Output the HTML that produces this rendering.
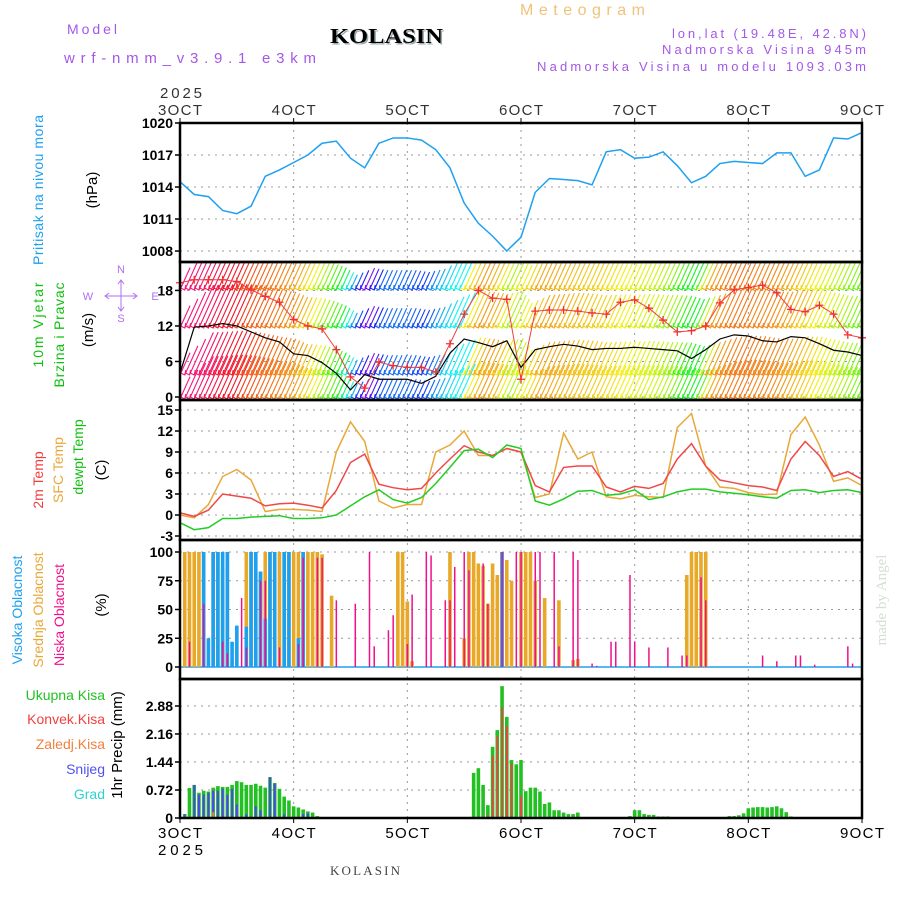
<!DOCTYPE html>
<html><head><meta charset="utf-8"><title>Meteogram KOLASIN</title>
<style>
html,body{margin:0;padding:0;background:#fff;}
svg{display:block;font-family:"Liberation Sans",sans-serif;}
</style></head>
<body>
<svg id="chart" width="900" height="900" viewBox="0 0 900 900" xmlns="http://www.w3.org/2000/svg">
<rect x="0" y="0" width="900" height="900" fill="#fff"/>
<!-- header -->
<text x="67" y="34" font-size="14" fill="#a458e8" textLength="50" lengthAdjust="spacing">Model</text>
<text x="64" y="63" font-size="15" fill="#a458e8" textLength="252" lengthAdjust="spacing">wrf-nmm_v3.9.1 e3km</text>
<text x="330" y="43" font-size="21" font-weight="bold" font-family="Liberation Serif,serif" fill="#9aa" textLength="113" lengthAdjust="spacingAndGlyphs" transform="translate(1.5,1.5)">KOLASIN</text>
<text x="330" y="43" font-size="21" font-weight="bold" font-family="Liberation Serif,serif" fill="#000" textLength="113" lengthAdjust="spacingAndGlyphs">KOLASIN</text>
<text x="520" y="15" font-size="16" fill="#f0c27a" textLength="125" lengthAdjust="spacing">Meteogram</text>
<text x="672" y="38" font-size="13" fill="#a458e8" textLength="194" lengthAdjust="spacing">lon,lat (19.48E, 42.8N)</text>
<text x="662" y="54" font-size="13" fill="#a458e8" textLength="204" lengthAdjust="spacing">Nadmorska Visina 945m</text>
<text x="537" y="71" font-size="13" fill="#a458e8" textLength="329" lengthAdjust="spacing">Nadmorska Visina u modelu 1093.03m</text>

<!-- left axis titles -->
<text transform="translate(43,190) rotate(-90)" text-anchor="middle" font-size="14" fill="#1ea0f0" textLength="150" lengthAdjust="spacing">Pritisak na nivou mora</text>
<text transform="translate(97,190) rotate(-90)" text-anchor="middle" font-size="15" fill="#000">(hPa)</text>
<text transform="translate(43,325) rotate(-90)" text-anchor="middle" font-size="14" fill="#10c010" textLength="85" lengthAdjust="spacing">10m Vjetar</text>
<text transform="translate(64,335) rotate(-90)" text-anchor="middle" font-size="14" fill="#10c010" textLength="105" lengthAdjust="spacing">Brzina i Pravac</text>
<text transform="translate(93,330) rotate(-90)" text-anchor="middle" font-size="15" fill="#000">(m/s)</text>
<g fill="#b070f0" stroke="#b070f0" font-size="11">
<text x="121" y="273" text-anchor="middle" stroke="none">N</text>
<text x="121" y="322" text-anchor="middle" stroke="none">S</text>
<text x="88" y="300" text-anchor="middle" stroke="none">W</text>
<text x="155" y="300" text-anchor="middle" stroke="none">E</text>
<path d="M105 296 L137 296 M121 281 L121 310 M109 293 L105 296 L109 299 M133 293 L137 296 L133 299 M118 284 L121 280 L124 284 M118 307 L121 311 L124 307" fill="none" stroke-width="1"/>
</g>
<text transform="translate(43,480) rotate(-90)" text-anchor="middle" font-size="14" fill="#f03c3c">2m Temp</text>
<text transform="translate(63,470) rotate(-90)" text-anchor="middle" font-size="14" fill="#e8a838">SFC Temp</text>
<text transform="translate(83,457) rotate(-90)" text-anchor="middle" font-size="14" fill="#10c010">dewpt Temp</text>
<text transform="translate(106,470) rotate(-90)" text-anchor="middle" font-size="15" fill="#000">(C)</text>
<text transform="translate(22,610) rotate(-90)" text-anchor="middle" font-size="14" fill="#1ea0f0">Visoka Oblacnost</text>
<text transform="translate(43,610) rotate(-90)" text-anchor="middle" font-size="14" fill="#e8a838">Srednja Oblacnost</text>
<text transform="translate(64,615) rotate(-90)" text-anchor="middle" font-size="14" fill="#f0108c">Niska Oblacnost</text>
<text transform="translate(106,605) rotate(-90)" text-anchor="middle" font-size="15" fill="#000">(%)</text>
<g font-size="14" text-anchor="end">
<text x="105" y="700" fill="#22c022">Ukupna  Kisa</text>
<text x="105" y="724" fill="#f04040">Konvek.Kisa</text>
<text x="105" y="749" fill="#f08040">Zaledj.Kisa</text>
<text x="105" y="774" fill="#5050f0">Snijeg</text>
<text x="105" y="799" fill="#30d0d0">Grad</text>
</g>
<text transform="translate(122,745) rotate(-90)" text-anchor="middle" font-size="15" fill="#000">1hr Precip (mm)</text>
<text transform="translate(886,600) rotate(-90)" text-anchor="middle" font-size="15" font-family="Liberation Serif,serif" fill="#d4e0d4">made by Angel</text>
<text x="330" y="875" font-size="13" font-family="Liberation Serif,serif" fill="#444" textLength="70" lengthAdjust="spacing">KOLASIN</text>

<g id="grid"></g>
<g id="plots"></g>
<g id="frames"></g>
<g id="axes"></g>
</svg>
<script>
// ---- data (3-hourly, hours 0..144) ----
const hours3 = [0,3,6,9,12,15,18,21,24,27,30,33,36,39,42,45,48,51,54,57,60,63,66,69,72,75,78,81,84,87,90,93,96,99,102,105,108,111,114,117,120,123,126,129,132,135,138,141,144];
const pressure = [1014.5,1013.3,1013.1,1011.8,1011.5,1012.2,1015.0,1015.6,1016.3,1017.0,1018.1,1018.3,1016.7,1015.8,1018.1,1018.6,1018.6,1018.4,1017.5,1015.8,1012.5,1010.6,1009.4,1008.0,1009.3,1013.5,1014.8,1014.7,1014.6,1014.2,1017.3,1017.5,1016.7,1016.8,1017.3,1016.0,1014.4,1015.0,1016.2,1016.4,1016.3,1016.2,1017.2,1017.2,1015.0,1015.6,1018.6,1018.5,1019.1];
const windSpeed = [4,11.8,12.0,12.4,12.0,11.0,10.0,9.3,7.3,7.0,5.8,4.0,1.2,3.8,3.0,3.0,3.0,2.3,3.5,7.4,9.8,9.2,8.5,9.5,5.0,8.0,8.5,8.9,8.6,8.0,8.2,8.2,8.4,8.2,8.0,7.8,6.5,8.0,9.8,10.5,10.3,9.5,9.3,10.2,10.0,9.0,7.9,7.6,7.0];
const windGust = [19.3,19.8,19.8,19.8,19.5,18.1,17.0,16.0,13.1,12.0,11.5,8.0,3.4,1.5,5.9,5.3,5.0,5.0,4.2,9.0,14.0,18.0,16.7,16.5,3.0,14.5,14.7,14.7,14.5,14.2,14.0,16.0,16.4,15.0,13.0,11.0,11.2,12.0,15.9,18.1,18.5,18.9,17.6,14.8,14.4,15.5,14.0,10.5,10.0];
const windHue = [330,335,345,355,10,20,25,30,40,60,90,120,200,270,220,215,220,230,200,180,60,35,45,80,60,40,40,45,48,50,55,60,65,70,80,110,130,40,30,25,30,30,35,45,55,65,75,90,100];
const temp2m = [0.3,-0.2,0.7,3.0,2.7,2.4,1.3,1.6,1.7,1.4,1.0,3.5,7.5,8.7,4.4,3.9,3.6,3.8,6.0,8.0,9.9,9.0,8.5,9.5,9.0,4.2,3.3,6.8,7.0,7.0,4.0,3.3,4.1,3.8,4.5,8.0,10.2,7.0,5.0,4.6,4.2,4.0,3.5,8.0,10.5,8.5,5.5,6.2,5.1];
const tempSfc = [0.0,-0.4,1.5,5.5,6.5,5.0,0.5,0.8,0.8,0.7,0.5,9.0,13.3,10.5,2.0,1.0,1.5,1.5,9.0,10.0,12.0,8.5,8.5,9.5,9.0,2.5,3.0,11.7,8.0,9.0,2.6,2.3,2.8,2.6,2.5,12.5,14.5,7.0,4.0,3.8,3.2,2.9,3.0,11.5,14.0,10.0,4.8,5.3,4.2];
const dewpt = [-1.1,-2.1,-1.8,-0.5,-0.5,-0.3,-0.2,-0.1,-0.5,-0.5,-0.4,0.0,1.3,2.6,3.6,2.2,1.7,2.5,4.5,6.8,9.2,9.4,8.2,10.0,9.5,2.0,1.4,2.3,3.4,3.5,2.8,3.0,3.6,2.2,2.6,3.3,3.7,3.7,3.3,3.1,2.9,2.6,2.4,3.5,3.6,3.2,3.5,3.6,3.2];
// cloud cover [hour, %]
const midCloud = [[1,100],[2,100],[3,100],[4,100],[5,100],[7,100],[8,100],[9,85],[10,100],[11,5],[14,100],[15,100],[16,83],[17,83],[18,100],[19,100],[21,100],[22,100],[23,100],[24,100],[25,100],[26,100],[27,100],[28,100],[29,100],[30,98],[32,62],[46,100],[47,100],[48,57],[49,5],[57,100],[60,25],[61,100],[62,100],[63,90],[64,88],[65,55],[66,90],[67,80],[68,100],[69,93],[70,75],[72,100],[73,100],[74,100],[75,75],[77,60],[80,58],[83,6],[84,7],[107,80],[108,100],[109,100],[110,100],[111,100]];
const highCloud = [[5,100],[6,25],[7,100],[8,100],[9,100],[10,100],[11,22],[12,36],[14,35],[15,100],[16,100],[17,83],[18,42],[19,100],[20,100],[22,100],[23,100],[25,25],[26,100],[68,100]];
const lowCloud = [[2,22],[5,55],[9,22],[10,12],[13,60],[14,17],[17,75],[18,75],[21,17],[25,20],[26,95],[29,95],[30,95],[33,58],[37,55],[40,100],[41,18],[44,32],[45,45],[48,20],[49,63],[52,100],[53,97],[56,58],[57,58],[58,87],[60,100],[61,84],[64,90],[65,55],[68,100],[71,100],[72,100],[75,100],[76,100],[79,100],[80,18],[83,100],[84,93],[87,3],[88,1],[91,22],[92,22],[95,80],[96,22],[99,17],[103,17],[106,10],[107,10],[110,78],[111,58],[123,10],[126,5],[130,10],[131,10],[134,2],[141,18],[142,3]];
// precipitation [hour, mm]
const totalPrecip = [[1,0.1],[2,0.77],[3,0.85],[4,0.65],[5,0.7],[6,0.68],[7,0.78],[8,0.82],[9,0.8],[10,0.8],[11,0.85],[12,0.95],[13,0.92],[14,0.85],[15,0.85],[16,0.88],[17,0.83],[18,0.78],[19,1.05],[20,0.9],[21,0.75],[22,0.55],[23,0.45],[24,0.3],[25,0.27],[26,0.22],[27,0.17],[28,0.14],[29,0.05],[62,1.16],[63,1.28],[64,0.85],[65,0.33],[66,1.83],[67,2.26],[68,3.39],[69,2.6],[70,1.49],[71,1.38],[72,1.49],[73,0.69],[74,0.78],[75,0.78],[76,0.68],[77,0.36],[78,0.4],[79,0.2],[80,0.2],[81,0.14],[82,0.1],[83,0.1],[84,0.14],[95,0.05],[96,0.2],[97,0.2],[98,0.1],[99,0.08],[100,0.08],[101,0.04],[102,0.04],[103,0.04],[116,0.05],[117,0.05],[118,0.07],[119,0.12],[120,0.25],[121,0.27],[122,0.28],[123,0.28],[124,0.27],[125,0.28],[126,0.3],[127,0.25],[128,0.15],[129,0.04]];
const convPrecip = [[65,0.08],[66,1.6],[67,2.1],[68,2.85],[69,2.35],[70,1.4],[72,0.55]];
const snowPrecip = [[1,0.1],[3,0.85],[4,0.6],[5,0.6],[6,0.65],[7,0.7],[8,0.7],[9,0.75],[10,0.6],[11,0.75],[12,0.35],[14,0.1],[16,0.3],[17,0.2],[19,1.05],[20,0.88],[22,0.1],[26,0.1],[27,0.12]];
const freezPrecip = [[7,0.15],[16,0.03]];
const dayLabels = ["3OCT","4OCT","5OCT","6OCT","7OCT","8OCT","9OCT"];
const pTicks = [1008,1011,1014,1017,1020];
const wTicks = [0,6,12,18];
const tTicks = [-3,0,3,6,9,12,15];
const cTicks = [0,25,50,75,100];
const prTicks = [0,0.72,1.44,2.16,2.88];
const prTickLabels = ["0","0.72","1.44","2.16","2.88"];

// ---- axes ----
const X0=180, X1=862, NH=144;
const xs = h => X0 + h*(X1-X0)/NH;
const yP = p => 123 + (1020-p)*10.67;
const yW = v => 397 - v*5.92;
const yT = t => 515 - 7*t;
const yC = v => 667 - v*1.15;
const yR = v => 818 - v*38.9;
const NS="http://www.w3.org/2000/svg";
function mk(tag, attrs, parent){const e=document.createElementNS(NS,tag);for(const k in attrs)e.setAttribute(k,attrs[k]);parent.appendChild(e);return e;}
const grid=document.getElementById('grid'), plots=document.getElementById('plots'), frames=document.getElementById('frames'), axes=document.getElementById('axes');
const panels=[{t:123,b:262},{t:262,b:400},{t:400,b:540},{t:540,b:679},{t:679,b:818}];

// vertical day grid
dayLabels.forEach((d,i)=>{
  const x=xs(i*24);
  if(i>0&&i<6){
    const l=mk('line',{x1:x,x2:x,y1:123,y2:818,stroke:'#999','stroke-width':1,'stroke-dasharray':'2,5'},grid);
    
    
  }
  const tt=mk('text',{x:x,y:115,'text-anchor':'middle','font-size':15,fill:'#333',textLength:44,lengthAdjust:'spacing'},axes);
  tt.textContent=d;
  
  
  const tb=mk('text',{x:x,y:838,'text-anchor':'middle','font-size':15,fill:'#000',textLength:44,lengthAdjust:'spacing'},axes);
  tb.textContent=d;
  
  
  mk('line',{x1:x,x2:x,y1:818,y2:823,stroke:'#000','stroke-width':1},axes);
  mk('line',{x1:x,x2:x,y1:118,y2:123,stroke:'#000','stroke-width':1},axes);
});
const y1=mk('text',{x:160,y:98,'font-size':15,fill:'#333',textLength:42,lengthAdjust:'spacing'},axes);y1.textContent='2025';


const y2=mk('text',{x:158,y:855,'font-size':15,fill:'#000',textLength:45,lengthAdjust:'spacing'},axes);y2.textContent='2025';



function hTicks(ticks, yf, labels, name){
  ticks.forEach((v,i)=>{
    const y=yf(v);
    const g=mk('line',{x1:X0,x2:X1,y1:y,y2:y,stroke:'#999','stroke-width':1,'stroke-dasharray':'2,5'},grid);
    
    
    mk('line',{x1:X0-5,x2:X0,y1:y,y2:y,stroke:'#000','stroke-width':1.5},axes);
    const t=mk('text',{x:X0-7,y:y+5,'text-anchor':'end','font-size':14,'font-weight':'bold',fill:'#000'},axes);
    t.textContent=labels?labels[i]:String(v);
    
    
  });
}
hTicks(pTicks,yP,null,'pressure');
hTicks(wTicks,yW,null,'wind');
hTicks(tTicks,yT,null,'temp');
hTicks(cTicks,yC,null,'cloud');
hTicks(prTicks,yR,prTickLabels,'precip');

// ---- pressure ----
const pp=mk('polyline',{points:hours3.map((h,i)=>xs(h)+','+yP(pressure[i])).join(' '),fill:'none',stroke:'#1ea0f0','stroke-width':1.5},plots);



// ---- wind barbs (approximate hatching) ----
const clip=mk('clipPath',{id:'wclip'},plots);
mk('rect',{x:X0,y:263,width:X1-X0,height:136},clip);
const wg=mk('g',{'clip-path':'url(#wclip)'},plots);


const rows=[290,328,375,399];
for(let h=0;h<=NH;h++){
  const i=Math.min(48,Math.floor(h/3)), f=(h-i*3)/3, j=Math.min(48,i+1);
  const hue=windHue[i]+(windHue[j]-windHue[i])*f*(Math.abs(windHue[j]-windHue[i])<100?1:0);
  const sp=windSpeed[i]+(windSpeed[j]-windSpeed[i])*f;
  const len=12+sp*2.6;
  const x=xs(h);
  rows.forEach(r=>{
    const ln=mk('line',{x1:x,y1:r,x2:x+len*0.45,y2:r-len,stroke:'hsl('+hue+',90%,52%)','stroke-width':1.1},wg);
    
    
    mk('path',{d:'M'+(x-4)+' '+(r-2)+' L'+x+' '+r+' L'+(x+1)+' '+(r-5),fill:'none',stroke:'hsl('+hue+',90%,52%)','stroke-width':1},wg);
  });
}
const sl=mk('polyline',{points:hours3.map((h,i)=>xs(h)+','+yW(windSpeed[i])).join(' '),fill:'none',stroke:'#000','stroke-width':1.2},plots);


const gl=mk('polyline',{points:hours3.map((h,i)=>xs(h)+','+yW(windGust[i])).join(' '),fill:'none',stroke:'#f04040','stroke-width':1},plots);


hours3.forEach((h,i)=>{
  const x=xs(h),y=yW(windGust[i]);
  const m=mk('path',{d:'M'+(x-4)+' '+y+' H'+(x+4)+' M'+x+' '+(y-4)+' V'+(y+4),stroke:'#f03030','stroke-width':1.3},plots);
  
  
});

// ---- temperature ----
[[tempSfc,'#e8a838','sfc-temp-line'],[temp2m,'#f04848','temp-2m-line'],[dewpt,'#22cc22','dewpoint-line']].forEach(s=>{
  const l=mk('polyline',{points:hours3.map((h,i)=>xs(h)+','+yT(s[0][i])).join(' '),fill:'none',stroke:s[1],'stroke-width':1.5},plots);
  
  
});

// ---- clouds ----
const cb=mk('line',{x1:X0,x2:X1,y1:yC(0),y2:yC(0),stroke:'#1ea0f0','stroke-width':1.5},plots);


midCloud.forEach(d=>{const r=mk('rect',{x:xs(d[0])-1.8,y:yC(d[1]),width:3.6,height:yC(0)-yC(d[1]),fill:'#e8a828'},plots);
  
  });
highCloud.forEach(d=>{const r=mk('rect',{x:xs(d[0])-1.8,y:yC(d[1]),width:3.6,height:yC(0)-yC(d[1]),fill:'#1ea0f0'},plots);
  
  });
lowCloud.forEach(d=>{const r=mk('rect',{x:xs(d[0])-0.7,y:yC(d[1]),width:1.5,height:yC(0)-yC(d[1]),fill:'#f0108c'},plots);
  
  });

// ---- precipitation ----
totalPrecip.forEach(d=>{const r=mk('rect',{x:xs(d[0])-1.8,y:yR(d[1]),width:3.6,height:yR(0)-yR(d[1]),fill:'#22c022'},plots);
  
  });
snowPrecip.forEach(d=>{const r=mk('rect',{x:xs(d[0])-1,y:yR(d[1]),width:2,height:yR(0)-yR(d[1]),fill:'#4848f0'},plots);
  
  });
convPrecip.forEach(d=>{const r=mk('rect',{x:xs(d[0])-0.8,y:yR(d[1]),width:1.8,height:yR(0)-yR(d[1]),fill:'#f04040'},plots);
  
  });
freezPrecip.forEach(d=>{const r=mk('rect',{x:xs(d[0])-0.8,y:yR(d[1]),width:1.8,height:yR(0)-yR(d[1]),fill:'#f08040'},plots);
  
  });

// ---- frames ----
panels.forEach((p,i)=>{
  const r=mk('rect',{x:X0,y:p.t,width:X1-X0,height:p.b-p.t,fill:'none',stroke:'#000','stroke-width':2.5},frames);
  
  
});
</script>
</body></html>
